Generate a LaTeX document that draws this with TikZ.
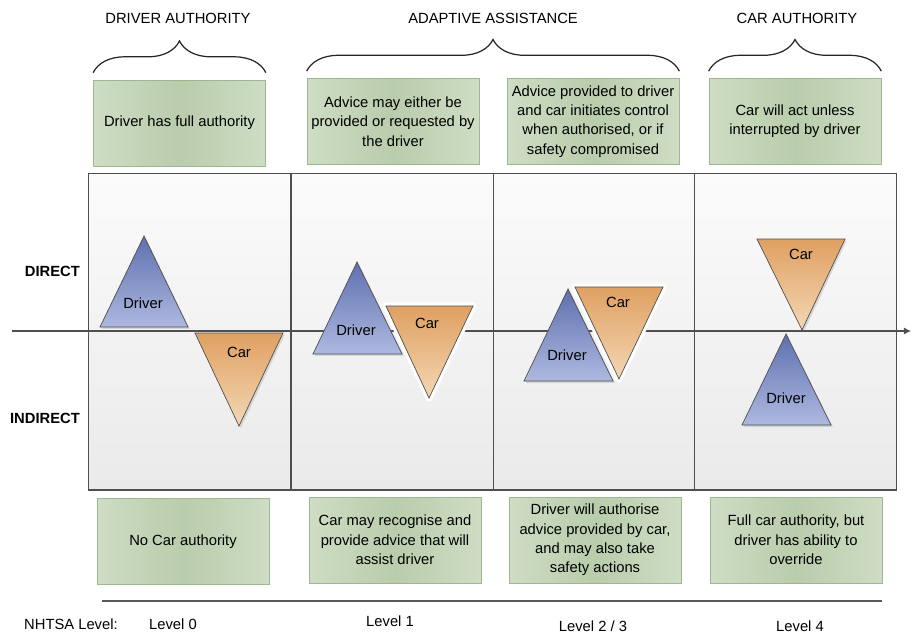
\documentclass[tikz,border=0pt]{standalone}
\usepackage{fontspec}
\setmainfont{Liberation Sans}
\usetikzlibrary{decorations.pathreplacing,shadows,arrows.meta}
\definecolor{boxgreen}{HTML}{B9CCAB}
\definecolor{boxedge}{HTML}{CEDDC4}
\definecolor{boxline}{HTML}{9DB890}
\definecolor{drvtop}{HTML}{5E70AF}
\definecolor{drvbot}{HTML}{AEB9E0}
\definecolor{cartop}{HTML}{DFA062}
\definecolor{carbot}{HTML}{F4D7B3}
\definecolor{panetop}{HTML}{FBFBFB}
\definecolor{panebot}{HTML}{EAEAEA}
\definecolor{edge}{HTML}{4F4F4F}
\tikzset{
  every node/.style={font=\fontsize{8.4}{11}\selectfont},
  greenbox/.style={draw=boxline, left color=boxedge, right color=boxedge, middle color=boxgreen,
    minimum width=3.44cm, minimum height=1.72cm, align=center, inner sep=1pt},
  pane/.style={draw=edge, line width=0.6pt, top color=panetop, bottom color=panebot,
    minimum width=4.04cm, minimum height=6.34cm},
  drvtri/.style={draw=edge, line width=0.4pt, top color=drvtop, bottom color=drvbot,
    drop shadow={opacity=0.25, shadow xshift=1pt, shadow yshift=-1pt}},
  cartri/.style={draw=edge, line width=0.4pt, top color=cartop, bottom color=carbot,
    drop shadow={opacity=0.25, shadow xshift=1pt, shadow yshift=-1pt}},
  halo/.style={preaction={draw=white, line width=4pt, line join=round}},
  bracket/.style={decorate, decoration={brace, amplitude=18pt}, line width=0.7pt, draw=black!85},
  sidelab/.style={anchor=east, font=\fontsize{8.4}{11}\selectfont\bfseries},
}
\begin{document}
\begin{tikzpicture}[x=0.02cm, y=-0.02cm]
\useasboundingbox (0,0) rectangle (912,635);
\node[pane] (col0) at (189.5,331.5){};
\node[pane] (col1) at (392.5,331.5){};
\node[pane] (col2) at (594.5,331.5){};
\node[pane] (col3) at (795.5,331.5){};
\coordinate (ax0) at (12,331);
\coordinate (ax1) at (911,331);
\draw[edge, line width=0.6pt, -{Latex[length=4pt,width=4pt]}](ax0) -- (ax1);
\node[sidelab] (direct) at (86,271){DIRECT};
\node[sidelab] (indirect) at (86,418){INDIRECT};
\path[drvtri] (100,327) -- (144,236) -- (188,327) -- cycle;
\path[cartri] (195,333) -- (283,333) -- (239,426) -- cycle;
\node (drv0) at (143,303){Driver};
\node (car0) at (239,352){Car};
\path[drvtri] (313,354) -- (357,262) -- (402,354) -- cycle;
\path[cartri, halo] (386,306) -- (473,306) -- (429,398) -- cycle;
\node (drv1) at (356,330){Driver};
\node (car1) at (427,323){Car};
\path[drvtri] (524,381) -- (568,289) -- (613,381) -- cycle;
\path[cartri, halo] (575,287) -- (663,287) -- (619,379) -- cycle;
\node (drv2) at (567,355){Driver};
\node (car2) at (618,302){Car};
\path[cartri] (757,239) -- (845,239) -- (802,330) -- cycle;
\path[drvtri] (742,425) -- (786,334) -- (831,425) -- cycle;
\node (car3) at (801,254){Car};
\node (drv3) at (786,398){Driver};
\node[greenbox] (top0) at (179.5,123){Driver has full authority};
\node[greenbox] (top1) at (393,121.5){Advice may either be\\provided or requested by\\the driver};
\node[greenbox] (top2) at (593,121.5){Advice provided to driver\\and car initiates control\\when authorised, or if\\safety compromised};
\node[greenbox] (top3) at (795,121.5){Car will act unless\\interrupted by driver};
\node[greenbox] (bot0) at (183,541.5){No Car authority};
\node[greenbox] (bot1) at (395,540){Car may recognise and\\provide advice that will\\assist driver};
\node[greenbox] (bot2) at (595,540){Driver will authorise\\advice provided by car,\\and may also take\\safety actions};
\node[greenbox] (bot3) at (796,540){Full car authority, but\\driver has ability to\\override};
\draw[bracket]([yshift=4pt]top0.north west) -- ([yshift=4pt]top0.north east);
\draw[bracket]([yshift=4pt]top1.north west) -- ([yshift=4pt]top2.north east);
\draw[bracket]([yshift=4pt]top3.north west) -- ([yshift=4pt]top3.north east);
\node (hd0) at (178,18){DRIVER AUTHORITY};
\node (hd1) at (493,18){ADAPTIVE ASSISTANCE};
\node (hd2) at (797,18){CAR AUTHORITY};
\coordinate (rule0) at (102,601);
\coordinate (rule1) at (882,601);
\draw[black!65, line width=1.1pt](rule0) -- (rule1);
\node[anchor=west] (nhtsa) at (18,624){NHTSA Level:};
\node (lvl0) at (173,624){Level 0};
\node (lvl1) at (390,621){Level 1};
\node (lvl2) at (593,626){Level 2 / 3};
\node (lvl4) at (800,626){Level 4};
\end{tikzpicture}
\end{document}
